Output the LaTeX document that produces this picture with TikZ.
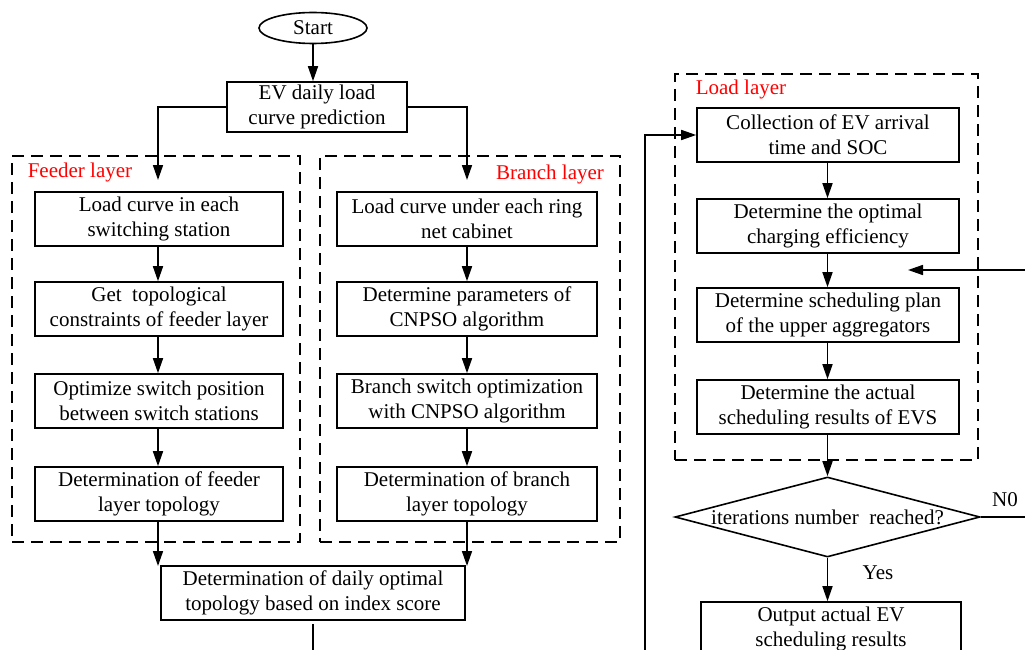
\documentclass[tikz,border=0pt]{standalone}
\usepackage{fontspec}
\setmainfont{Liberation Serif}
\newfontfamily\timesfont{Liberation Serif}
\usetikzlibrary{shapes.geometric,arrows.meta}
\begin{document}
\begin{tikzpicture}[x=1pt,y=-1pt,
  font=\timesfont\fontsize{21pt}{25pt}\selectfont,
  box/.style={draw, line width=1.6pt, align=center, inner sep=0pt, minimum height=54pt,
    execute at begin node={\rule{0pt}{19pt}}},
  fbox/.style={box, minimum width=248pt},
  bbox/.style={box, minimum width=260pt},
  lbox/.style={box, minimum width=262pt},
  arr/.style={line width=1.6pt, -{Triangle[length=15pt,width=10pt]}},
  ln/.style={line width=1.6pt},
  dbox/.style={draw, line width=1.6pt, dash pattern=on 12pt off 7pt, inner sep=0pt},
  lbl/.style={text=red, inner sep=0pt}]
\useasboundingbox (0,0) rectangle (1025,650);
\clip (0,0) rectangle (1025,650);

% dashed layer frames
\node[dbox, minimum width=288pt, minimum height=386pt] (feeder) at (156,349) {};
\node[dbox, minimum width=300pt, minimum height=386pt] (branch) at (470,349) {};
\node[dbox, minimum width=303pt, minimum height=386pt] (load) at (826.5,267) {};
\node[lbl] (flbl) at (80,172) {Feeder layer};
\node[lbl] (blbl) at (550,174) {Branch layer};
\node[lbl] (llbl) at (741,89) {Load layer};

% top
\node[draw, ellipse, line width=1.6pt, minimum width=108pt, minimum height=31pt, inner sep=0pt] (start) at (313,28) {Start};
\node[box, minimum width=180pt, minimum height=50pt] (ev) at (317,107) {EV daily load\\curve prediction};

% feeder column
\node[fbox] (f1) at (159,219) {Load curve in each\\switching station};
\node[fbox] (f2) at (159,309) {Get\ \ topological\\constraints of feeder layer};
\node[fbox] (f3) at (159,401) {Optimize switch position\\between switch stations};
\node[fbox] (f4) at (159,494) {Determination of feeder\\layer topology};

% branch column
\node[bbox] (b1) at (467,219) {Load curve under each ring\\net cabinet};
\node[bbox] (b2) at (467,309) {Determine parameters of\\CNPSO algorithm};
\node[bbox] (b3) at (467,401) {Branch switch optimization\\with CNPSO algorithm};
\node[bbox] (b4) at (467,494) {Determination of branch\\layer topology};

\node[box, minimum width=304pt] (daily) at (313,593) {Determination of daily optimal\\topology based on index score};

% load column
\node[lbox] (l1) at (828,135) {Collection of EV arrival\\time and SOC};
\node[lbox] (l2) at (828,226) {Determine the optimal\\charging efficiency};
\node[lbox] (l3) at (828,315) {Determine scheduling plan\\of the upper aggregators};
\node[lbox] (l4) at (828,407) {Determine the actual\\scheduling results of EVS};

\node[draw, diamond, line width=1.6pt, minimum width=305pt, minimum height=80pt, inner sep=0pt] (dec) at (827.5,517) {\makebox[0pt][c]{iterations number\ \ reached?}};
\node[box, minimum width=260pt] (out) at (831,629) {Output actual EV\\scheduling results};
\node[inner sep=0pt] (no) at (1005,500) {N0};
\node[inner sep=0pt] (yes) at (878,573) {Yes};

% coordinates
\coordinate (fa) at (158,180);
\coordinate (ba) at (467,180);
\coordinate (fb) at (158,566);
\coordinate (bb) at (467,566);
\coordinate (dbot) at (313,660);
\coordinate (lbot) at (645,660);
\coordinate (fbin) at (1030,270);
\coordinate (fbtip) at (908,270);
\coordinate (noend) at (1030,517);

% connectors
\draw[arr] (start.south) -- (start.south |- ev.north);
\draw[arr] (ev.west) -| (fa);
\draw[arr] (ev.east) -| (ba);
\draw[arr] (f1.south -| fa) -- (f2.north -| fa);
\draw[arr] (f2.south -| fa) -- (f3.north -| fa);
\draw[arr] (f3.south -| fa) -- (f4.north -| fa);
\draw[arr] (b1.south -| ba) -- (b2.north -| ba);
\draw[arr] (b2.south -| ba) -- (b3.north -| ba);
\draw[arr] (b3.south -| ba) -- (b4.north -| ba);
\draw[arr] (f4.south -| fb) -- (fb);
\draw[arr] (b4.south -| bb) -- (bb);
\draw[ln] (daily.south) ++(0,3) -- (dbot);
\draw[arr] (lbot) |- (l1.west);
\draw[arr] (l1.south -| dec.north) -- (l2.north -| dec.north);
\draw[arr] (l2.south -| dec.north) -- (l3.north -| dec.north);
\draw[arr] (l3.south -| dec.north) -- (l4.north -| dec.north);
\draw[arr] (l4.south -| dec.north) -- (dec.north);
\draw[arr] (dec.south) -- (dec.south |- out.north);
\draw[ln] (dec.east) -- (noend);
\draw[arr] (fbin) -- (fbtip);
\end{tikzpicture}
\end{document}
